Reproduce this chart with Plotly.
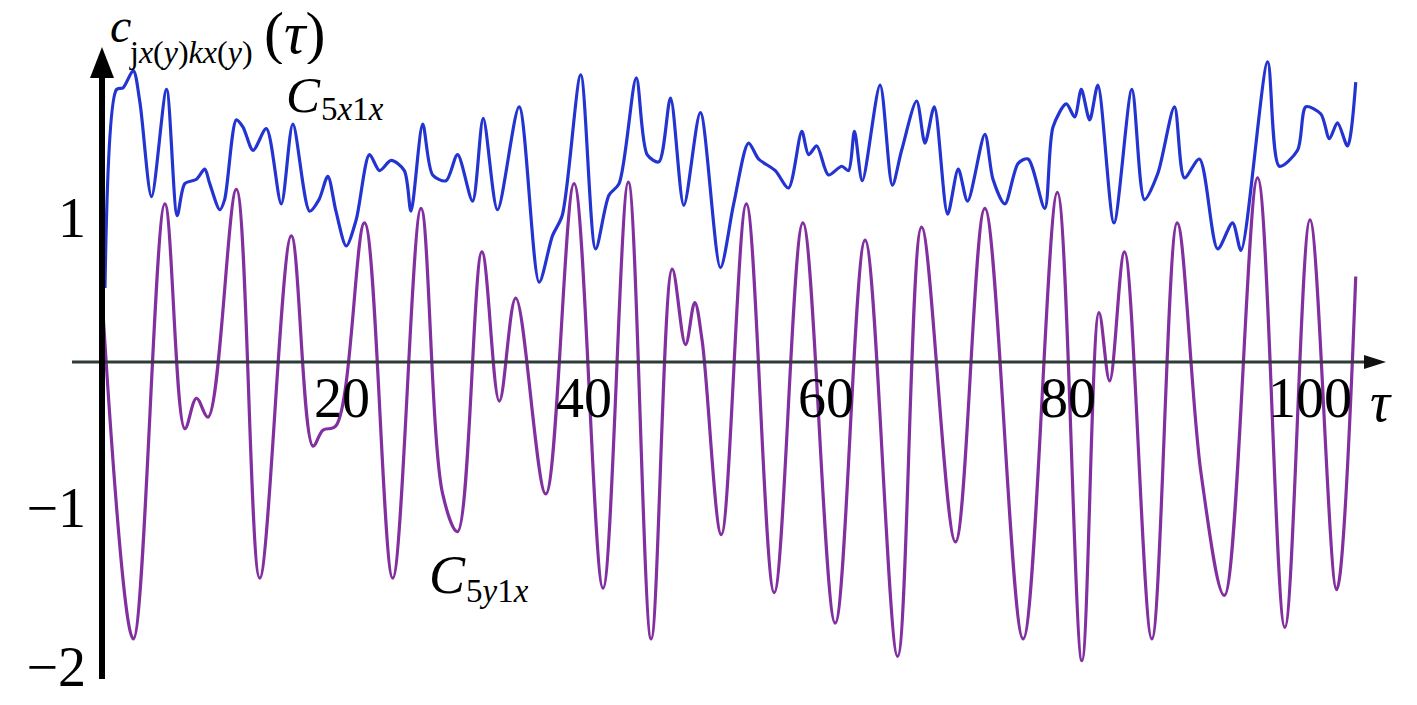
import plotly.graph_objects as go

# ---- data ----
tau_5x1x = [0.41, 1.37, 1.9, 2.75, 3.3, 4.26, 5.5, 6.38, 7.01, 7.97, 8.66, 9.07, 9.9, 10.3,
            11.27, 11.82, 12.65, 13.75, 14.98, 15.94, 17.32, 18.1, 18.83, 19.5, 20.35, 21.17,
            22.27, 23.1, 24.06, 25.15, 25.7, 26.67, 27.49, 28.6, 29.55, 30.79, 31.67, 32.85,
            34.64, 36.29, 37.39, 38.2, 39.73, 40.96, 42.06, 42.9, 44.32, 45.22, 46.19, 47.15,
            48.25, 49.62, 51.27, 52.37, 53.6, 54.43, 55.81, 56.9, 58.0, 58.56, 59.24, 60.2,
            61.3, 61.86, 62.35, 63.0, 64.47, 65.48, 66.25, 67.49, 68.18, 68.95, 70.05, 70.93,
            71.7, 73.13, 73.8, 74.78, 75.88, 76.7, 78.08, 78.76, 79.86, 80.55, 81.1, 81.79,
            82.47, 83.8, 85.28, 86.32, 87.42, 88.8, 89.62, 90.86, 92.37, 93.6, 94.3, 96.5,
            97.46, 98.97, 99.66, 100.9, 101.6, 102.27, 103.1, 103.78]
c_5x1x = [0.51, 1.88, 1.89, 2.01, 1.79, 1.14, 1.88, 1.01, 1.23, 1.26, 1.33, 1.23, 1.05, 1.12,
          1.67, 1.62, 1.46, 1.61, 1.09, 1.64, 1.04, 1.12, 1.28, 1.04, 0.80, 0.98,
          1.43, 1.32, 1.39, 1.32, 1.04, 1.64, 1.29, 1.25, 1.43, 1.11, 1.68, 1.05,
          1.76, 0.55, 0.87, 1.01, 1.98, 0.78, 1.15, 1.23, 1.96, 1.43, 1.38, 1.82,
          1.08, 1.72, 0.65, 1.09, 1.51, 1.40, 1.32, 1.20, 1.59, 1.43, 1.49, 1.29,
          1.35, 1.32, 1.59, 1.25, 1.91, 1.22, 1.46, 1.80, 1.51, 1.76, 1.02, 1.33,
          1.11, 1.57, 1.26, 1.09, 1.37, 1.40, 1.06, 1.62, 1.78, 1.69, 1.88, 1.67,
          1.91, 0.96, 1.88, 1.12, 1.30, 1.76, 1.27, 1.40, 0.78, 0.96, 0.77, 2.07,
          1.35, 1.46, 1.76, 1.71, 1.54, 1.65, 1.49, 1.93]

tau_5y1x = [0.2, 2.75, 5.36, 7.01, 7.97, 8.93, 11.27, 13.2, 15.81, 17.6, 18.42, 19.5, 21.86,
            24.19, 26.53, 28.32, 29.55, 31.56, 33.0, 34.36, 36.84, 39.18, 41.57, 43.66, 45.55,
            47.29, 48.39, 49.15, 49.76, 51.35, 53.42, 55.72, 58.09, 60.76, 63.23, 65.92, 67.9,
            70.7, 73.13, 76.29, 79.12, 81.15, 82.56, 83.44, 84.67, 86.93, 89.02, 91.0, 92.92,
            95.67, 97.92, 100.0, 102.2, 103.78]
c_5y1x = [0.40, -1.91, 1.09, -0.46, -0.25, -0.38, 1.19, -1.49, 0.87, -0.58, -0.47, -0.44, 0.96,
          -1.49, 1.06, -0.91, -1.17, 0.76, -0.27, 0.44, -0.91, 1.23, -1.56, 1.24, -1.91,
          0.64, 0.12, 0.41, 0.15, -1.19, 1.09, -1.59, 0.96, -1.80, 0.84, -2.03, 0.93,
          -1.24, 1.06, -1.91, 1.17, -2.06, 0.34, -0.13, 0.76, -1.91, 0.96, -0.77, -1.61,
          1.27, -1.83, 0.98, -1.57, 0.59]

x_tick_vals = [20, 40, 60, 80, 100]
x_tick_text = ["20", "40", "60", "80", "100"]
y_tick_vals = [1, -1, -2.1]
y_tick_text = ["1", "\u22121", "\u22122"]

# ---- pixel geometry helpers (layout only) ----
W, H = 1417, 705
X0, SX = 100.0, 12.1     # px of tau=0, px per tau unit
Y0, SY = 362.0, 145.0    # px of c=0, px per c unit


def tx(px):
    return (px - X0) / SX


def vy(py):
    return (Y0 - py) / SY


FONT = "Liberation Serif, Times New Roman, serif"
BLUE = "#2434d0"
PURPLE = "#8230a0"

fig = go.Figure()
fig.add_trace(go.Scatter(x=tau_5y1x, y=c_5y1x, mode="lines",
                         line=dict(color=PURPLE, width=3.2, shape="spline", smoothing=1.0),
                         showlegend=False, hoverinfo="skip"))
fig.add_trace(go.Scatter(x=tau_5x1x, y=c_5x1x, mode="lines",
                         line=dict(color=BLUE, width=3.2, shape="spline", smoothing=0.8),
                         showlegend=False, hoverinfo="skip"))

shapes = [
    # x axis line and arrow head
    dict(type="line", xref="x", yref="y", x0=tx(72), x1=tx(1368), y0=0, y1=0,
         line=dict(color="#2f3b3b", width=3), layer="above"),
    dict(type="path", xref="x", yref="y",
         path=f"M {tx(1364)},{vy(355)} L {tx(1386)},{vy(362)} L {tx(1364)},{vy(369)} Z",
         fillcolor="#111", line=dict(width=0), layer="above"),
    # y axis line and arrow head
    dict(type="line", xref="x", yref="y", x0=tx(102), x1=tx(102), y0=vy(679), y1=vy(74),
         line=dict(color="black", width=6), layer="above"),
    dict(type="path", xref="x", yref="y",
         path=f"M {tx(90)},{vy(78)} L {tx(102)},{vy(47)} L {tx(114)},{vy(78)} Z",
         fillcolor="black", line=dict(width=0), layer="above"),
]

ann = []


def label(px, py, text, size, xanchor="left", height=None):
    a = dict(x=tx(px), y=vy(py), xref="x", yref="y", text=text, showarrow=False,
             xanchor=xanchor, yanchor="middle",
             font=dict(family=FONT, size=size, color="black"))
    if height:
        a["height"] = height
    ann.append(a)


# y-axis title  c_{jx(y)kx(y)}(tau)
label(108, 25, "<i>c</i>", 48, height=44)
label(127, 52, "j<i>x</i>(<i>y</i>)<i>kx</i>(<i>y</i>)", 32, height=38)
label(262, 33, "(<i>\u03c4</i>)", 60, height=62)
# curve labels
label(284, 95, "<i>C</i>", 51, height=40)
label(319, 109, "5<i>x</i>1<i>x</i>", 33, height=38)
label(427, 575, "<i>C</i>", 54, height=46)
label(464, 591, "5<i>y</i>1<i>x</i>", 33, height=38)
# x-axis name
label(1381, 402, "<i>\u03c4</i>", 56, xanchor="center")

fig.update_layout(
    width=W, height=H,
    margin=dict(l=0, r=0, t=0, b=0),
    paper_bgcolor="white", plot_bgcolor="white",
    shapes=shapes, annotations=ann,
    xaxis=dict(range=[tx(0), tx(W)], showgrid=False, zeroline=False, showline=False,
               ticks="", tickvals=x_tick_vals, ticktext=x_tick_text,
               tickfont=dict(family=FONT, size=56, color="black"),
               anchor="free", position=1 - Y0 / H, ticklabelstandoff=-2,
               ticklabeloverflow="allow", automargin=False),
    yaxis=dict(range=[vy(H), vy(0)], showgrid=False, zeroline=False, showline=False,
               ticks="", tickvals=y_tick_vals, ticktext=y_tick_text,
               tickfont=dict(family=FONT, size=56, color="black"),
               anchor="free", position=102 / W, ticklabelstandoff=16,
               ticklabeloverflow="allow", automargin=False),
)

fig.write_html("out.html", config={"displayModeBar": False},
               post_script="document.body.style.margin='0px';document.body.style.overflow='hidden';")
